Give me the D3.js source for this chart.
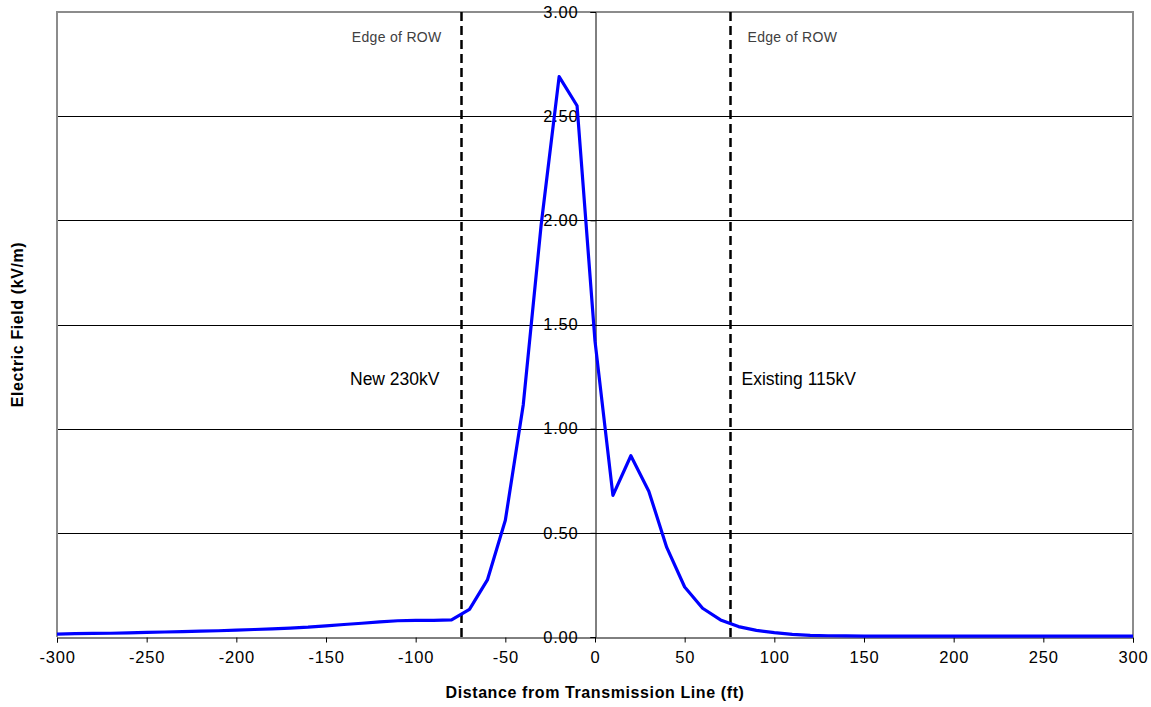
<!DOCTYPE html>
<html>
<head>
<meta charset="utf-8">
<script src="https://cdn.jsdelivr.net/npm/d3@7"></script>
<style>
  html, body { margin: 0; padding: 0; background: #fff; }
  svg { display: block; }
  text { font-family: "Liberation Sans", Arial, sans-serif; }
</style>
</head>
<body>
<svg id="chart" width="1151" height="707"></svg>
<script>
// Distance from the centreline (ft)
const distances = [
  -300, -290, -280, -270, -260, -250, -240, -230, -220, -210,
  -200, -190, -180, -170, -160, -150, -140, -130, -120, -110,
  -100, -90, -80, -70, -60, -50, -40, -30, -20, -10,
  0, 10, 20, 30, 40, 50, 60, 70, 80, 90,
  100, 110, 120, 130, 140, 150, 160, 170, 180, 190,
  200, 210, 220, 230, 240, 250, 260, 270, 280, 290, 300
];
// Electric field at 1 m above ground (kV/m)
const fieldValues = [
  0.014, 0.016, 0.017, 0.018, 0.020, 0.022, 0.024, 0.026, 0.028, 0.030,
  0.033, 0.036, 0.039, 0.043, 0.047, 0.053, 0.060, 0.066, 0.073, 0.078,
  0.080, 0.080, 0.082, 0.133, 0.274, 0.560, 1.115, 1.98, 2.69, 2.55,
  1.42, 0.68, 0.87, 0.70, 0.43, 0.24, 0.138, 0.082, 0.050, 0.032,
  0.021, 0.013, 0.008, 0.006, 0.005, 0.004, 0.004, 0.004, 0.004, 0.004,
  0.004, 0.004, 0.004, 0.004, 0.004, 0.004, 0.004, 0.004, 0.004, 0.004, 0.004
];
// Right-of-way edges (ft)
const rowEdges = [-75, 75];
const xTicks = [-300, -250, -200, -150, -100, -50, 0, 50, 100, 150, 200, 250, 300];
const yTicks = [0, 0.5, 1.0, 1.5, 2.0, 2.5, 3.0];

const svg = d3.select("#chart");
const plot = { left: 57, right: 1133, top: 12, bottom: 637 };

const x = d3.scaleLinear().domain([-300, 300]).range([plot.left, plot.right]);
const y = d3.scaleLinear().domain([0, 3]).range([plot.bottom, plot.top]);

// horizontal gridlines
svg.append("g")
  .selectAll("line")
  .data(yTicks.filter(v => v > 0 && v < 3))
  .join("line")
  .attr("x1", plot.left).attr("x2", plot.right)
  .attr("y1", d => Math.round(y(d)) + 0.5).attr("y2", d => Math.round(y(d)) + 0.5)
  .attr("stroke", "#000").attr("stroke-width", 1);

// plot frame (left, top, right)
svg.append("path")
  .attr("d", `M${plot.left},${plot.bottom}V${plot.top}H${plot.right}V${plot.bottom}`)
  .attr("fill", "none").attr("stroke", "#8c8c8c").attr("stroke-width", 2);

// x axis along E = 0; plain hyphen for negatives
const xAxis = svg.append("g")
  .attr("transform", `translate(0,${Math.round(y(0)) + 0.5})`)
  .call(d3.axisBottom(x).tickValues(xTicks).tickSize(5).tickPadding(9).tickFormat(d => String(d)));
xAxis.select(".domain").attr("stroke", "#000");
xAxis.selectAll(".tick line").attr("stroke", "#000");
xAxis.selectAll("text")
  .attr("font-size", 16.5).attr("letter-spacing", 0.8).attr("fill", "#000")
  .style("font-family", '"Liberation Sans", Arial, sans-serif');

// y axis at distance 0
const yAxis = svg.append("g")
  .attr("transform", `translate(${Math.round(x(0)) + 0.5},0)`)
  .call(d3.axisLeft(y).tickValues(yTicks).tickSize(5).tickPadding(12).tickFormat(d => d.toFixed(2)));
yAxis.select(".domain").attr("stroke", "#000");
yAxis.selectAll(".tick line").attr("stroke", "#000");
yAxis.selectAll("text")
  .attr("font-size", 16.5).attr("letter-spacing", 0.8).attr("fill", "#000")
  .style("font-family", '"Liberation Sans", Arial, sans-serif');

// right-of-way edge markers
svg.append("g")
  .selectAll("line")
  .data(rowEdges)
  .join("line")
  .attr("x1", d => x(d) + 1).attr("x2", d => x(d) + 1)
  .attr("y1", plot.top).attr("y2", plot.bottom)
  .attr("stroke", "#000").attr("stroke-width", 2.5)
  .attr("stroke-dasharray", "9,5");

// field profile
const line = d3.line()
  .x((d, i) => x(distances[i]))
  .y(d => y(d));
svg.append("path")
  .datum(fieldValues)
  .attr("d", line)
  .attr("fill", "none")
  .attr("stroke", "#0000ff")
  .attr("stroke-width", 3.2)
  .attr("stroke-linejoin", "round");

// annotations
const notes = svg.append("g");
notes.append("text")
  .attr("x", x(rowEdges[0]) - 19).attr("y", 42)
  .attr("text-anchor", "end").attr("font-size", 14).attr("letter-spacing", 0.3).attr("fill", "#404040")
  .text("Edge of ROW");
notes.append("text")
  .attr("x", x(rowEdges[1]) + 18).attr("y", 42)
  .attr("font-size", 14).attr("letter-spacing", 0.3).attr("fill", "#404040")
  .text("Edge of ROW");
notes.append("text")
  .attr("x", x(rowEdges[0]) - 21).attr("y", 385)
  .attr("text-anchor", "end").attr("font-size", 17.5).attr("fill", "#000")
  .text("New 230kV");
notes.append("text")
  .attr("x", x(rowEdges[1]) + 12).attr("y", 385)
  .attr("font-size", 17.5).attr("fill", "#000")
  .text("Existing 115kV");

// axis titles
svg.append("text")
  .attr("x", x(0)).attr("y", 698)
  .attr("text-anchor", "middle").attr("font-size", 16).attr("font-weight", "bold")
  .attr("letter-spacing", 0.6)
  .text("Distance from Transmission Line (ft)");
svg.append("text")
  .attr("transform", `translate(23,${(plot.top + plot.bottom) / 2}) rotate(-90)`)
  .attr("text-anchor", "middle").attr("font-size", 16).attr("font-weight", "bold")
  .attr("letter-spacing", 0.6)
  .text("Electric Field (kV/m)");
</script>
</body>
</html>
